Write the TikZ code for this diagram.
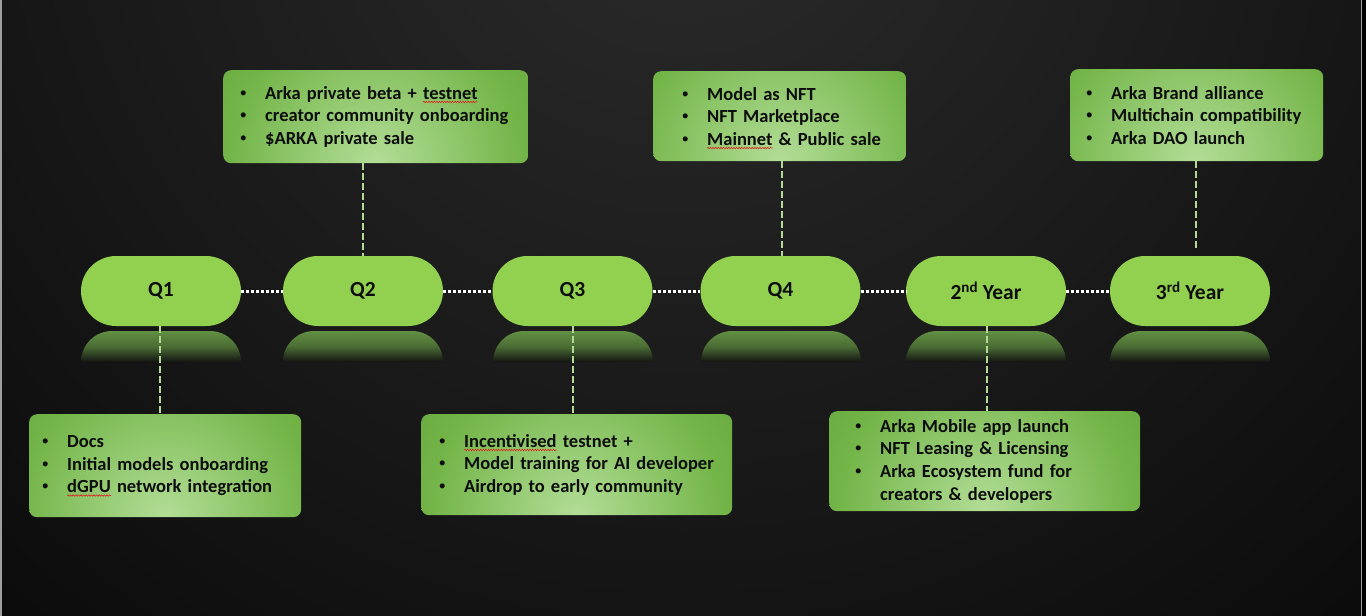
\documentclass[tikz,border=0pt]{standalone}
\usepackage{fontspec}
\setmainfont{Carlito}
\newfontfamily\bulletfont{Liberation Sans}
\usetikzlibrary{shapes.misc,decorations.pathmorphing}
\definecolor{pillgreen}{HTML}{92D050}
\definecolor{reflgreen}{HTML}{628F44}
\definecolor{dashgreen}{HTML}{B2DA94}
\definecolor{boxlight}{HTML}{B2DD96}
\definecolor{boxmid}{HTML}{72B447}
\definecolor{boxdark}{HTML}{4C8A2C}
\definecolor{bgtop}{HTML}{2C2C2C}
\definecolor{bgdark}{HTML}{060606}
\definecolor{txt}{HTML}{0D0D0D}
\definecolor{spell}{HTML}{E02020}
\pgfdeclareradialshading{boxglow}{\pgfpoint{0bp}{0bp}}{color(0bp)=(boxlight); color(11bp)=(boxmid); color(26bp)=(boxdark); color(50bp)=(boxdark)}
\newlength\swlen
\newcommand\myb[1]{\hspace*{#1pt}\makebox[25pt][l]{\bulletfont\mdseries •}}
\newcommand\spellwave[1]{\settowidth\swlen{#1}\tikz[overlay]{\draw[spell, line width=0.6pt, sharp corners, decorate, decoration={snake, amplitude=0.7pt, segment length=2.6pt}] (0pt,-2.8pt) -- (\swlen,-2.8pt);}#1}
\begin{document}
\begin{tikzpicture}[x=1pt,y=-1pt,
  pill/.style={rounded rectangle, fill=pillgreen, minimum width=160pt, minimum height=70pt, inner sep=0pt,
    text=txt, font=\fontsize{21.5}{24}\selectfont\bfseries},
  infobox/.style={rounded corners=8pt, inner xsep=0pt, inner ysep=0pt, align=left, anchor=north west,
    text=txt, font=\fontsize{18.5}{22.6}\selectfont\bfseries,
    path picture={\shade[shading=boxglow] (path picture bounding box.south) circle (340pt);}},
  hdot/.style={white, line width=3pt, dash pattern=on 3pt off 2pt},
  vdash/.style={dashgreen, line width=1.8pt, dash pattern=on 7pt off 3pt},
  refl/.style={top color=reflgreen, bottom color=bgdark!65!bgtop, middle color=reflgreen!75!bgdark}
]
\useasboundingbox (0,0) rectangle (1366,616);
% background
\begin{scope}
\clip (0,0) rectangle (1366,616);
\fill[bgdark] (0,0) rectangle (1366,616);
\shade[inner color=bgtop, outer color=bgdark] (683,-150) circle (1200pt);
\fill[black] (1362,0) rectangle (1366,616);
\draw[gray!75, line width=1.5pt] (0.75,0) -- (0.75,616);
\draw[gray!75, line width=1.5pt] (1361.5,0) -- (1361.5,616);
\end{scope}

% reflections
\foreach \xa in {81,283,493,701,906,1110}{
  \shade[refl] (\xa,362) [rounded corners=31pt] -- (\xa,331) -- (\xa+160,331) [sharp corners] -- (\xa+160,362) -- cycle;
}

% pills
\node[pill] (p1) at (161,291) {Q1};
\node[pill] (p2) at (363,291) {Q2};
\node[pill] (p3) at (572.5,291) {Q3};
\node[pill] (p4) at (780.5,291) {Q4};
\node[pill] (p5) at (986,291) {2\textsuperscript{nd} Year};
\node[pill] (p6) at (1190,291) {3\textsuperscript{rd} Year};

% horizontal dotted connectors
\draw[hdot] (p1.east) -- (p2.west);
\draw[hdot] (p2.east) -- (p3.west);
\draw[hdot] (p3.east) -- (p4.west);
\draw[hdot] (p4.east) -- (p5.west);
\draw[hdot] (p5.east) -- (p6.west);

% boxes
\node[infobox, minimum width=305pt, minimum height=93pt, text width=305pt] (b2) at (223,70)
  {\myb{17}Arka private beta + \spellwave{testnet}\\\myb{17}creator community onboarding\\\myb{17}\$ARKA private sale};
\node[infobox, minimum width=253pt, minimum height=90pt, text width=253pt] (b4) at (653,71)
  {\myb{29}Model as NFT\\\myb{29}NFT Marketplace\\\myb{29}\spellwave{Mainnet} \& Public sale};
\node[infobox, minimum width=253pt, minimum height=92pt, text width=253pt] (b6) at (1070,69)
  {\myb{16}Arka Brand alliance\\\myb{16}Multichain compatibility\\\myb{16}Arka DAO launch};
\node[infobox, minimum width=272pt, minimum height=103pt, text width=272pt] (b1) at (29,414)
  {\myb{13}Docs\\\myb{13}Initial models onboarding\\\myb{13}\spellwave{dGPU} network integration};
\node[infobox, minimum width=311pt, minimum height=101pt, text width=311pt] (b3) at (421,414)
  {\myb{18}\spellwave{Incentivised} testnet +\\\myb{18}Model training for AI developer\\\myb{18}Airdrop to early community};
\node[infobox, minimum width=311pt, minimum height=100pt, text width=311pt] (b5) at (829,411)
  {\myb{26}Arka Mobile app launch\\\myb{26}NFT Leasing \& Licensing\\\myb{26}Arka Ecosystem fund for\\\hspace*{51pt}creators \& developers};

% vertical dashed connectors
\coordinate (e6) at (1196,250);
\draw[vdash] (p2.north |- b2.south) -- (p2.north);
\draw[vdash] ([xshift=1.5pt]p4.north |- b4.south) -- ([xshift=1.5pt]p4.north);
\draw[vdash] (e6 |- b6.south) -- (e6);
\draw[vdash] ([xshift=-1pt]p1.south) -- ([xshift=-1pt]p1.south |- b1.north);
\draw[vdash] ([xshift=0.5pt]p3.south) -- ([xshift=0.5pt]p3.south |- b3.north);
\draw[vdash] ([xshift=1pt]p5.south) -- ([xshift=1pt]p5.south |- b5.north);
\end{tikzpicture}
\end{document}
